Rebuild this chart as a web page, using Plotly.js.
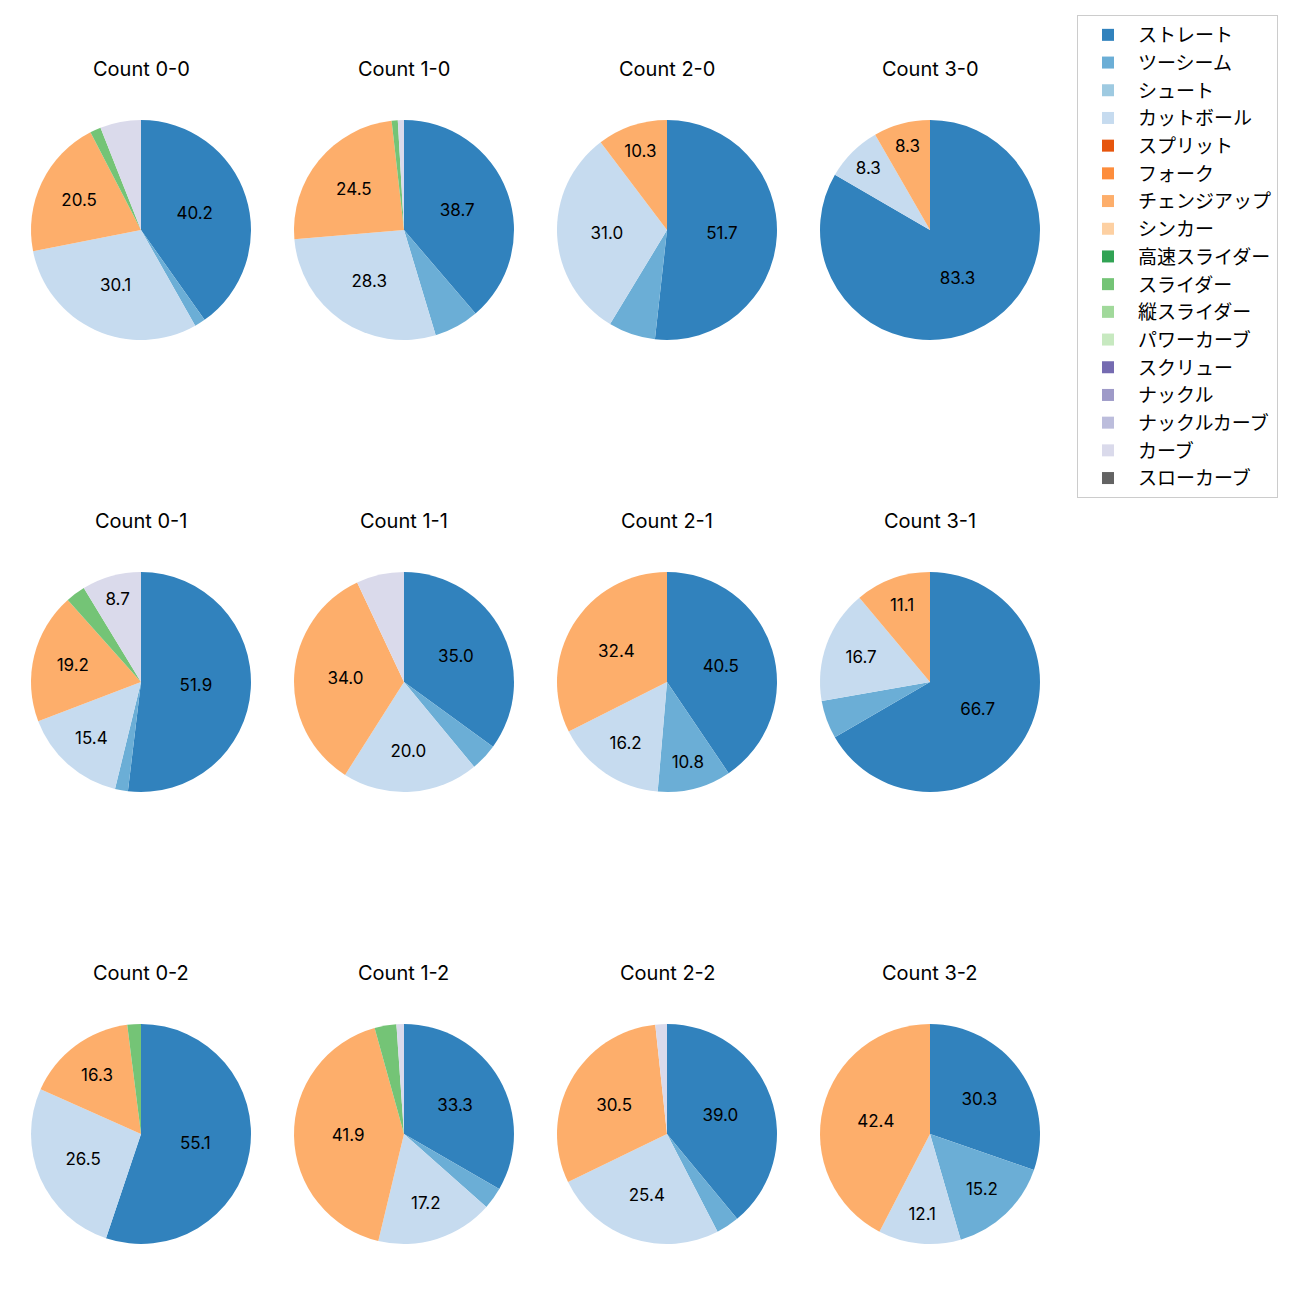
<!DOCTYPE html>
<html>
<head>
<meta charset="utf-8">
<script src="https://cdn.plot.ly/plotly-3.0.1.min.js"></script>
<style>html,body{margin:0;padding:0;background:#fff;}#chart{width:1300px;height:1300px;}</style>
</head>
<body>
<div id="chart"></div>
<script>
const pitchTypes = ["ストレート","ツーシーム","シュート","カットボール","スプリット","フォーク","チェンジアップ","シンカー","高速スライダー","スライダー","縦スライダー","パワーカーブ","スクリュー","ナックル","ナックルカーブ","カーブ","スローカーブ"];
const pitchColors = ["#3182bd","#6baed6","#9ecae1","#c6dbef","#e6550d","#fd8d3c","#fdae6b","#fdd0a2","#31a354","#74c476","#a1d99b","#c7e9c0","#756bb1","#9e9ac8","#bcbddc","#dadaeb","#636363"];
const countTitles = ["Count 0-0","Count 1-0","Count 2-0","Count 3-0","Count 0-1","Count 1-1","Count 2-1","Count 3-1","Count 0-2","Count 1-2","Count 2-2","Count 3-2"];
// values (percent) per count, in pitchTypes order
const v00 = [40.2,1.6,0,30.1,0,0,20.5,0,0,1.6,0,0,0,0,0,6.0,0];
const v10 = [38.7,6.6,0,28.3,0,0,24.5,0,0,0.9,0,0,0,0,0,0.9,0];
const v20 = [51.7,6.9,0,31.0,0,0,10.3,0,0,0,0,0,0,0,0,0,0];
const v30 = [83.3,0,0,8.3,0,0,8.3,0,0,0,0,0,0,0,0,0,0];
const v01 = [51.9,1.9,0,15.4,0,0,19.2,0,0,2.9,0,0,0,0,0,8.7,0];
const v11 = [35.0,4.0,0,20.0,0,0,34.0,0,0,0,0,0,0,0,0,7.0,0];
const v21 = [40.5,10.8,0,16.2,0,0,32.4,0,0,0,0,0,0,0,0,0,0];
const v31 = [66.7,5.6,0,16.7,0,0,11.1,0,0,0,0,0,0,0,0,0,0];
const v02 = [55.1,0,0,26.5,0,0,16.3,0,0,2.0,0,0,0,0,0,0,0];
const v12 = [33.3,3.2,0,17.2,0,0,41.9,0,0,3.2,0,0,0,0,0,1.1,0];
const v22 = [39.0,3.4,0,25.4,0,0,30.5,0,0,0,0,0,0,0,0,1.7,0];
const v32 = [30.3,15.2,0,12.1,0,0,42.4,0,0,0,0,0,0,0,0,0,0];
const allValues = [v00,v10,v20,v30,v01,v11,v21,v31,v02,v12,v22,v32];

const W = 1300, H = 1300;
const colCenters = [141,404,667,930];
const rowCenters = [230,682,1134];
const R = 110;
const FONT = "Inter, 'Noto Sans CJK JP', sans-serif";

const traces = [];
const annotations = [];
allValues.forEach((vals, i) => {
  const c = i % 4, r = Math.floor(i / 4);
  const cx = colCenters[c], cy = rowCenters[r];
  const txt = vals.map(v => (v >= 8 ? v.toFixed(1) : ""));
  traces.push({
    type: "pie",
    labels: pitchTypes,
    values: vals,
    text: txt,
    textinfo: "text",
    textposition: "inside",
    insidetextorientation: "horizontal",
    textfont: {family: FONT, size: 17, color: "#000"},
    sort: false,
    direction: "clockwise",
    rotation: 0,
    marker: {colors: pitchColors, line: {width: 0}},
    domain: {x: [(cx-R)/W, (cx+R)/W], y: [1-(cy+R)/H, 1-(cy-R)/H]},
    hoverinfo: "label+percent",
    showlegend: i === 0
  });
  annotations.push({
    text: countTitles[i], xref: "paper", yref: "paper",
    x: cx/W, y: 1-(cy-R-51)/H, xanchor: "center", yanchor: "middle",
    showarrow: false, font: {family: FONT, size: 20, color: "#000"}
  });
});

const layout = {
  width: W, height: H,
  margin: {l:0, r:0, t:0, b:0},
  paper_bgcolor: "#fff",
  showlegend: true,
  uniformtext: {minsize: 17, mode: "show"},
  legend: {
    x: 1077/W, y: 1-15/H, xanchor: "left", yanchor: "top",
    bordercolor: "#cccccc", borderwidth: 1, bgcolor: "#fff",
    font: {family: FONT, size: 19, color: "#000"},
    traceorder: "normal",
    itemwidth: 50
  },
  annotations: annotations
};
Plotly.newPlot("chart", traces, layout, {displayModeBar: false});
</script>
</body>
</html>
